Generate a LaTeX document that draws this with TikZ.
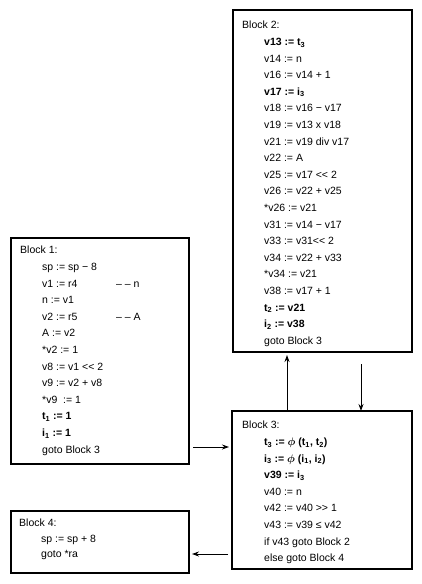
\documentclass[tikz,border=0pt]{standalone}
\usepackage{fontspec}
\setmainfont{Liberation Sans}
\usetikzlibrary{arrows.meta}
\newcommand{\ind}{\hspace*{22pt}}
\newcommand{\sbs}[1]{\textsubscript{#1}}
\begin{document}
\begin{tikzpicture}[x=1pt,y=-1pt,
  blk/.style={draw, line width=1.1pt, anchor=north west, inner sep=0pt, outer sep=0pt},
  txt/.style={anchor=north west, inner sep=0pt, align=left, font=\fontsize{10.5}{16.6}\selectfont},
  flow/.style={-{Stealth[length=7pt,width=5pt]}, line width=0.9pt}]
\useasboundingbox (0,0) rectangle (422,584);
% blocks
\node[blk, minimum width=178pt, minimum height=226pt] (b1) at (11,238) {};
\node[blk, minimum width=179pt, minimum height=342pt] (b2) at (233,10) {};
\node[blk, minimum width=180pt, minimum height=158pt] (b3) at (232,411) {};
\node[blk, minimum width=178pt, minimum height=62pt] (b4) at (11,511) {};
% texts
\node[txt] (t1) at (20,246) {Block 1:\\
\ind sp := sp − 8\\
\ind\makebox[74pt][l]{v1 := r4}– – n\\
\ind n := v1\\
\ind\makebox[74pt][l]{v2 := r5}– – A\\
\ind A := v2\\
\ind *v2 := 1\\
\ind v8 := v1 <{}< 2\\
\ind v9 := v2 + v8\\
\ind *v9~~:= 1\\
\ind\textbf{t\sbs{1} := 1}\\
\ind\textbf{i\sbs{1} := 1}\\
\ind goto Block 3};
\node[txt] (t2) at (242,21) {Block 2:\\
\ind\textbf{v13 := t\sbs{3}}\\
\ind v14 := n\\
\ind v16 := v14 + 1\\
\ind\textbf{v17 := i\sbs{3}}\\
\ind v18 := v16 − v17\\
\ind v19 := v13 x v18\\
\ind v21 := v19 div v17\\
\ind v22 := A\\
\ind v25 := v17 <{}< 2\\
\ind v26 := v22 + v25\\
\ind *v26 := v21\\
\ind v31 := v14 − v17\\
\ind v33 := v31<{}< 2\\
\ind v34 := v22 + v33\\
\ind *v34 := v21\\
\ind v38 := v17 + 1\\
\ind\textbf{t\sbs{2} := v21}\\
\ind\textbf{i\sbs{2} := v38}\\
\ind goto Block 3};
\node[txt] (t3) at (242,421) {Block 3:\\
\ind\textbf{t\sbs{3} := {\boldmath$\phi$} (t\sbs{1}, t\sbs{2})}\\
\ind\textbf{i\sbs{3} := {\boldmath$\phi$} (i\sbs{1}, i\sbs{2})}\\
\ind\textbf{v39 := i\sbs{3}}\\
\ind v40 := n\\
\ind v42 := v40 >{}> 1\\
\ind v43 := v39 ≤ v42\\
\ind if v43 goto Block 2\\
\ind else goto Block 4};
\node[txt, font=\fontsize{10.5}{15.5}\selectfont] (t4) at (19,519) {Block 4:\\
\ind sp := sp + 8\\
\ind goto *ra};
% connectors
\coordinate (ya) at (0,447);
\coordinate (yb) at (0,554);
\coordinate (xu) at (287,0);
\coordinate (xd) at (361,0);
\draw[flow, shorten <=4pt, shorten >=3pt] (b1.east |- ya) -- (b3.west |- ya);
\draw[flow, shorten >=3pt] (b3.north -| xu) -- (b2.south -| xu);
\draw[flow, shorten <=12pt] (b2.south -| xd) -- (b3.north -| xd);
\draw[flow, shorten <=4pt, shorten >=3pt] (b3.west |- yb) -- (b4.east |- yb);
\end{tikzpicture}
\end{document}
